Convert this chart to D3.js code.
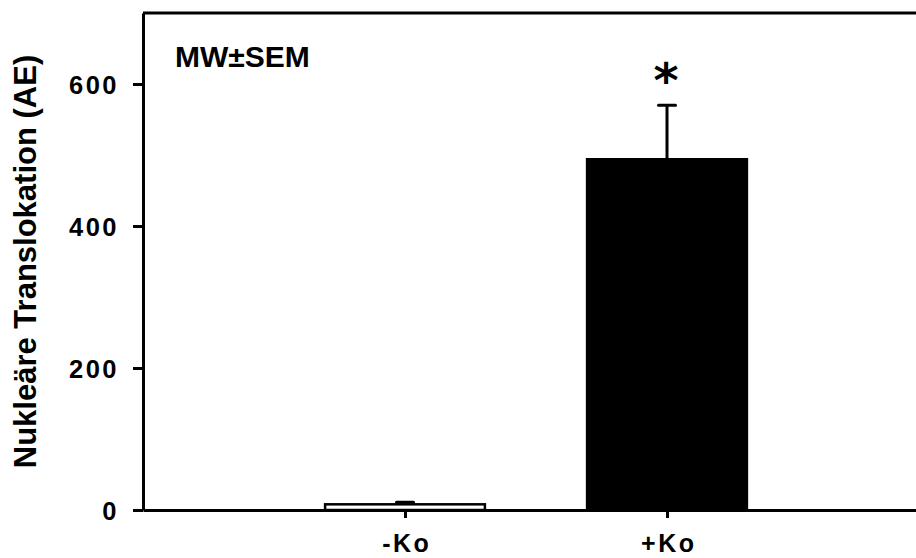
<!DOCTYPE html>
<html>
<head>
<meta charset="utf-8">
<script src="https://cdnjs.cloudflare.com/ajax/libs/d3/7.8.5/d3.min.js"></script>
<style>
  body { margin: 0; background: #fff; }
  svg text { font-family: "Liberation Sans", Arial, sans-serif; font-weight: bold; }
</style>
</head>
<body>
<div id="chart"></div>
<script>
var widthT = 916, heightT = 558;

// data
var categories = ["-Ko", "+Ko"];
var means = [8, 494];
var sems = [3, 76];
var barFills = ["#ffffff", "#000000"];
var signif = ["", "*"];
var yTicks = [0, 200, 400, 600];

var margin = {top: 13, right: -13, bottom: 48, left: 143},
    width = widthT - margin.left - margin.right,
    height = heightT - margin.top - margin.bottom;

var svg = d3.select("#chart")
    .append("svg")
    .attr("width", widthT)
    .attr("height", heightT);
var g = svg.append("g").attr("transform", "translate(" + margin.left + "," + margin.top + ")");

// categories sit at positions 1 and 2 of a 0..3 axis
var x = d3.scaleLinear().domain([0, 3]).range([0, width]);
var y = d3.scaleLinear().domain([0, 700]).range([height, 0]);
var barW = x(0.61) - x(0);

// frame top line
g.append("line")
    .attr("x1", 0).attr("x2", width)
    .attr("y1", 0).attr("y2", 0)
    .attr("stroke", "#000").attr("stroke-width", 3);

// bars
g.selectAll("rect.bar")
    .data(means)
  .enter().append("rect")
    .attr("class", "bar")
    .attr("x", function(d, i) { return x(i + 1) - barW / 2; })
    .attr("y", function(d) { return y(d); })
    .attr("width", barW)
    .attr("height", function(d) { return y(0) - y(d); })
    .attr("fill", function(d, i) { return barFills[i]; })
    .attr("stroke", "#000")
    .attr("stroke-width", 2.5);

// error bars (upper only)
var err = g.selectAll("g.err")
    .data(means)
  .enter().append("g")
    .attr("class", "err");
err.append("line")
    .attr("x1", function(d, i) { return x(i + 1); })
    .attr("x2", function(d, i) { return x(i + 1); })
    .attr("y1", function(d) { return y(d); })
    .attr("y2", function(d, i) { return y(d + sems[i]); })
    .attr("stroke", "#000").attr("stroke-width", 3);
err.append("line")
    .attr("x1", function(d, i) { return x(i + 1) - 8.5; })
    .attr("x2", function(d, i) { return x(i + 1) + 8.5; })
    .attr("y1", function(d, i) { return y(d + sems[i]); })
    .attr("y2", function(d, i) { return y(d + sems[i]); })
    .attr("stroke", "#000").attr("stroke-width", 3)
    .attr("stroke-linecap", "round");

// asterisk
g.selectAll("text.sig")
    .data(means)
  .enter().append("text")
    .attr("class", "sig")
    .attr("x", function(d, i) { return x(i + 1) - 1; })
    .attr("y", function(d, i) { return y(d + sems[i]) - 8; })
    .attr("text-anchor", "middle")
    .style("font-family", "'DejaVu Sans'")
    .style("font-weight", "bold")
    .style("font-size", "48px")
    .text(function(d, i) { return signif[i]; });

// y axis
var yAxis = g.append("g")
    .attr("class", "y axis")
    .call(d3.axisLeft(y).tickValues(yTicks).tickSize(10).tickPadding(14).tickSizeOuter(0));
yAxis.select(".domain").attr("stroke-width", 3);
yAxis.selectAll(".tick line").attr("stroke-width", 3);
yAxis.selectAll(".tick text")
    .attr("fill", "#000")
    .style("font-size", "25.5px")
    .style("letter-spacing", "2.5px")
    .attr("dy", "0.36em");

// x axis
var xAxis = g.append("g")
    .attr("class", "x axis")
    .attr("transform", "translate(0," + height + ")")
    .call(d3.axisBottom(x).tickValues([1, 2]).tickSize(8).tickPadding(16).tickSizeOuter(0)
      .tickFormat(function(d) { return categories[d - 1]; }));
xAxis.select(".domain").attr("stroke-width", 3);
xAxis.selectAll(".tick line").attr("stroke-width", 3);
xAxis.selectAll(".tick text")
    .attr("fill", "#000")
    .attr("dx", "1.25px")
    .style("font-size", "25px")
    .style("letter-spacing", "2.5px");

// legend text
g.append("text")
    .attr("x", 32)
    .attr("y", 54)
    .style("font-size", "30px")
    .text("MW±SEM");

// y title
svg.append("text")
    .attr("transform", "translate(36," + (margin.top + height / 2) + ") rotate(-90)")
    .attr("text-anchor", "middle")
    .style("font-size", "31px")
    .text("Nukleäre Translokation (AE)");
</script>
</body>
</html>
